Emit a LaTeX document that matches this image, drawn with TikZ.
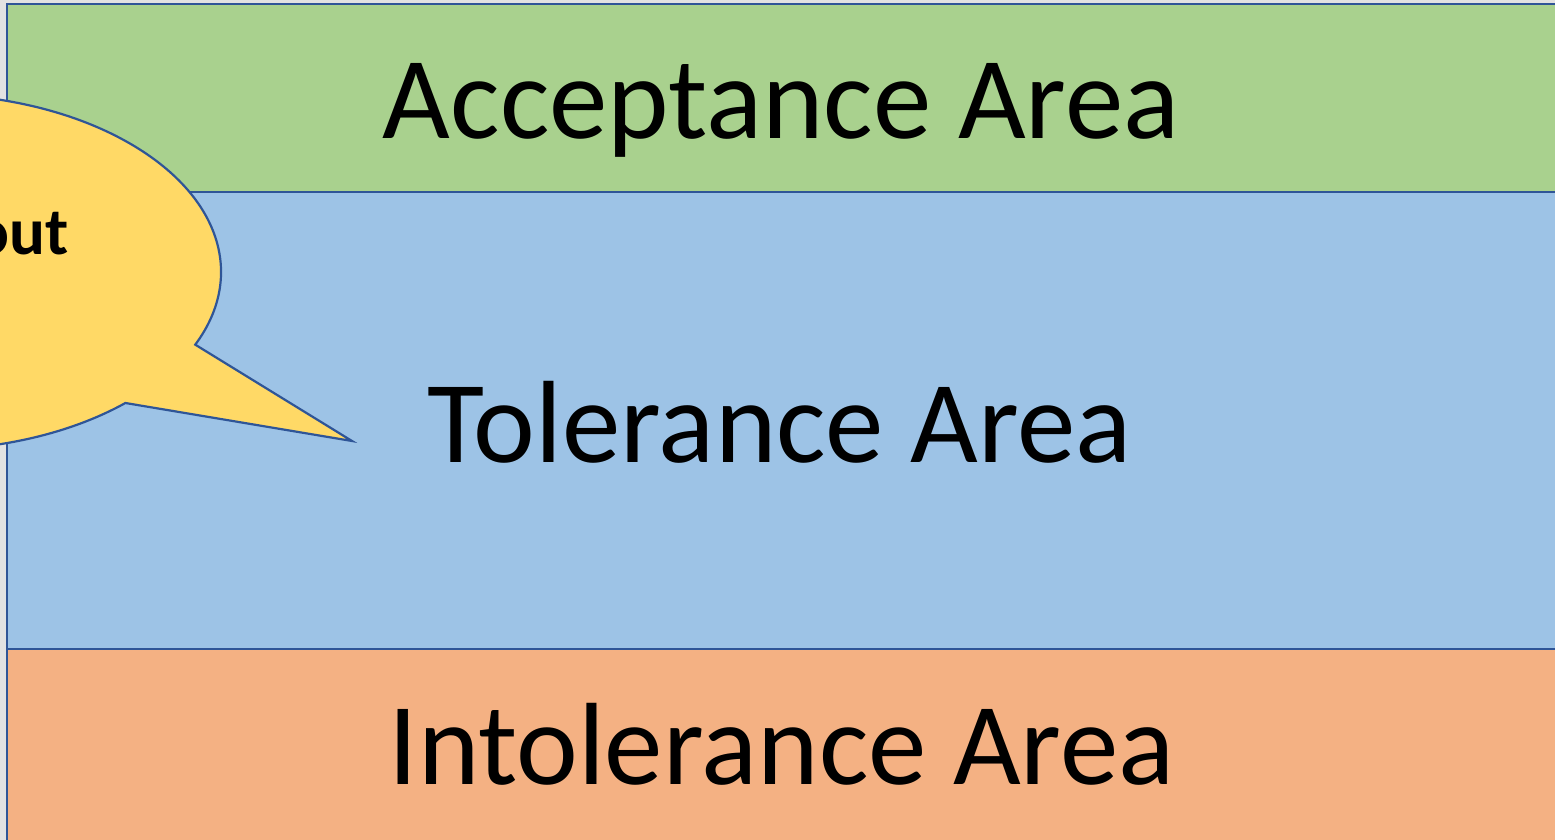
\documentclass[tikz,border=0pt]{standalone}
\usepackage{fontspec}
\setmainfont{Carlito}
\definecolor{bggray}{HTML}{E2E2E2}
\definecolor{accgreen}{HTML}{A9D18E}
\definecolor{tolblue}{HTML}{9DC3E6}
\definecolor{intorange}{HTML}{F4B183}
\definecolor{callyellow}{HTML}{FFD966}
\definecolor{edgeblue}{HTML}{2F5597}
\begin{document}
\begin{tikzpicture}[x=1pt,y=-1pt,
  band/.style={draw=edgeblue,line width=2.6pt},
  areatext/.style={inner sep=0pt,anchor=base,font=\fontsize{117}{122}\selectfont},
  callout/.style={draw=edgeblue,line width=2.2pt,fill=callyellow,line join=miter}]
\useasboundingbox (0,0) rectangle (1555,840);
\clip (0,0) rectangle (1555,840);
\fill[bggray] (0,0) rectangle (1555,840);
% bands
\draw[band,fill=accgreen] (7,4) rectangle (1570,192);
\draw[band,fill=tolblue] (7,192) rectangle (1570,649);
\draw[band,fill=intorange] (7,649) rectangle (1570,860);
% texts
\node[areatext] (acc) at (781,139) {Acceptance Area};
\node[areatext] (tol) at (779.5,462) {Tolerance Area};
\node[areatext] (int) at (781.5,784) {Intolerance Area};
% callout
\draw[callout] (125.4,403.0) arc[start angle=47.4, end angle=384.1, x radius=296, y radius=178] -- (352,441) -- cycle;
\node[inner sep=0pt,anchor=base east,font=\fontsize{67}{70}\selectfont\bfseries] (co) at (69,254) {out};
\end{tikzpicture}
\end{document}
